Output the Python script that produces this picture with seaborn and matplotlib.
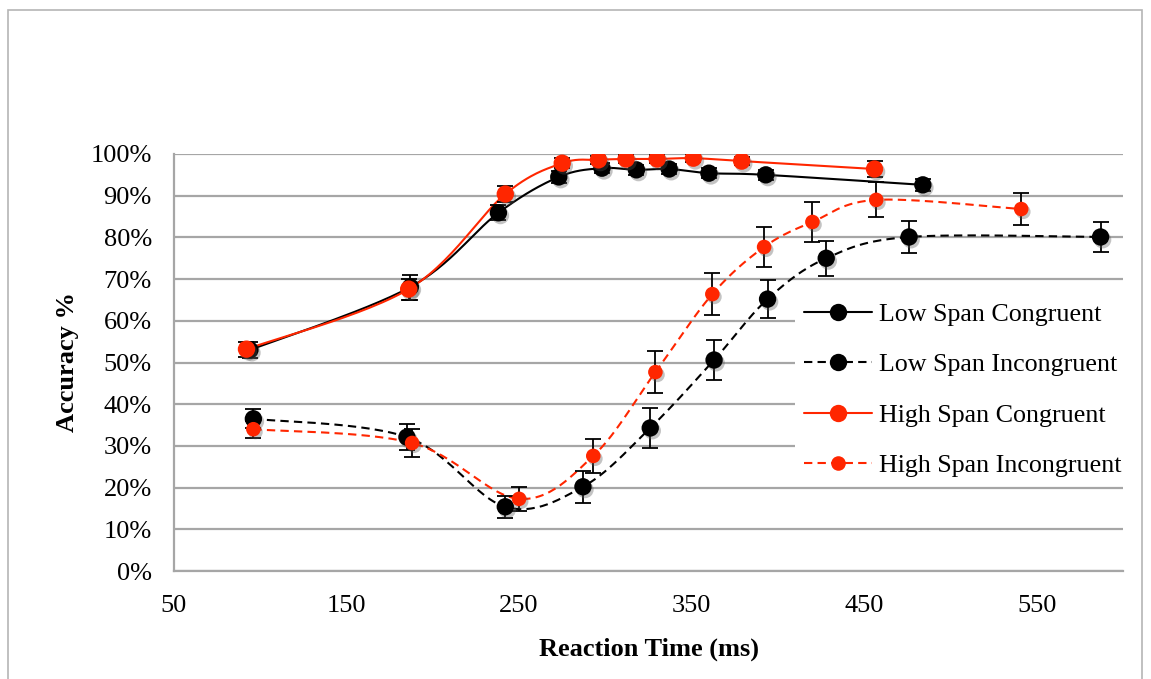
import numpy as np
import pandas as pd
import matplotlib
matplotlib.use("Agg")
import matplotlib.pyplot as plt
import matplotlib.patheffects as pe
import seaborn as sns
from matplotlib.lines import Line2D
from matplotlib.patches import Rectangle
from matplotlib.ticker import FuncFormatter

# --- data: reaction time (ms), accuracy (%), error (+/- %) ---
low_cong_rt = [94, 187, 238, 273, 298, 318, 337, 360, 393, 484]
low_cong_acc = [53.0, 68.1, 85.9, 94.5, 96.6, 96.2, 96.4, 95.4, 95.0, 92.6]
low_cong_err = [2.0, 3.0, 1.8, 1.5, 1.2, 1.2, 1.2, 1.2, 1.2, 1.5]

low_incong_rt = [96, 185, 242, 287, 326, 363, 394, 428, 476, 587]
low_incong_acc = [36.5, 32.1, 15.4, 20.2, 34.3, 50.6, 65.2, 75.0, 80.1, 80.1]
low_incong_err = [2.3, 3.1, 2.6, 3.8, 4.8, 4.7, 4.6, 4.2, 3.8, 3.7]

high_cong_rt = [92, 186, 242, 275, 296, 312, 330, 351, 379, 456]
high_cong_acc = [53.2, 67.6, 90.4, 97.8, 98.6, 98.8, 98.8, 99.0, 98.3, 96.4]
high_cong_err = [1.8, 2.5, 2.0, 1.2, 1.0, 1.0, 1.0, 1.0, 1.0, 2.0]

high_incong_rt = [96, 188, 250, 293, 329, 362, 392, 420, 457, 541]
high_incong_acc = [34.0, 30.7, 17.3, 27.6, 47.7, 66.4, 77.7, 83.7, 89.0, 86.8]
high_incong_err = [2.0, 3.4, 2.9, 4.1, 5.0, 5.0, 4.9, 4.7, 4.2, 3.9]

labels = ['Low Span Congruent', 'Low Span Incongruent',
          'High Span Congruent', 'High Span Incongruent']
x_ticks = [50, 150, 250, 350, 450, 550]
y_ticks = [0, 10, 20, 30, 40, 50, 60, 70, 80, 90, 100]

RED = '#ff2600'
FS = 19


def smooth(x, y, n=30):
    # Excel-like smoothed line (bezier through the points, Catmull-Rom handles)
    p = np.column_stack([x, y]).astype(float)
    out = [p[0]]
    for i in range(len(p) - 1):
        p0 = p[i - 1] if i > 0 else p[i]
        p3 = p[i + 2] if i + 2 < len(p) else p[i + 1]
        c1 = p[i] + (p[i + 1] - p0) / 6
        c2 = p[i + 1] - (p3 - p[i]) / 6
        t = np.linspace(0, 1, n)[1:, None]
        seg = ((1 - t) ** 3 * p[i] + 3 * (1 - t) ** 2 * t * c1
               + 3 * (1 - t) * t ** 2 * c2 + t ** 3 * p[i + 1])
        out.extend(seg)
    out = np.array(out)
    return out[:, 0], out[:, 1]


sns.set_style('white')
plt.rcParams['font.family'] = ['Liberation Serif', 'DejaVu Serif']
plt.rcParams['text.color'] = 'black'
plt.rcParams['axes.labelcolor'] = 'black'
plt.rcParams['xtick.color'] = 'black'
plt.rcParams['ytick.color'] = 'black'

fig = plt.figure(figsize=(11.51, 6.79), dpi=100)
ax = fig.add_axes([174 / 1151, 1 - 571 / 679, (1123 - 174) / 1151, (571 - 154) / 679])

series = [
    (low_cong_rt, low_cong_acc, low_cong_err, 'black', '-', 12.5),
    (low_incong_rt, low_incong_acc, low_incong_err, 'black', (0, (4, 2.5)), 12.5),
    (high_cong_rt, high_cong_acc, high_cong_err, RED, '-', 12.5),
    (high_incong_rt, high_incong_acc, high_incong_err, RED, (0, (4, 2.5)), 10.5),
]

for rt, acc, err, col, ls, ms in series:
    sx, sy = smooth(rt, acc)
    sns.lineplot(x=sx, y=sy, ax=ax, color=col, linestyle=ls, lw=1.5,
                 sort=False, estimator=None, zorder=3)

for rt, acc, err, col, ls, ms in series:
    ax.errorbar(rt, acc, yerr=err, fmt='none', ecolor='black', elinewidth=1.3,
                capsize=6, capthick=1.3, zorder=4)

shadow = [pe.SimplePatchShadow(offset=(1.5, -2), shadow_rgbFace='#555555', alpha=0.35),
          pe.Normal()]
for rt, acc, err, col, ls, ms in series:
    df = pd.DataFrame({'rt': rt, 'acc': acc})
    sns.scatterplot(data=df, x='rt', y='acc', ax=ax, color=col, s=ms ** 2,
                    edgecolor='none', zorder=5)
    ax.collections[-1].set_path_effects(shadow)

ax.set_xlim(50, 600)
ax.set_ylim(0, 100)
ax.set_xticks(x_ticks)
ax.set_yticks(y_ticks)
ax.yaxis.set_major_formatter(FuncFormatter(lambda v, _: f'{v:.0f}%'))
ax.tick_params(axis='both', length=0, labelsize=FS, colors='black')
ax.tick_params(axis='x', pad=17)
ax.tick_params(axis='y', pad=16)

ax.yaxis.grid(True, color='#a6a6a6', lw=1.6, zorder=0)
ax.xaxis.grid(False)
ax.set_axisbelow(True)
for side in ['top', 'right']:
    ax.spines[side].set_visible(False)
for side in ['left', 'bottom']:
    ax.spines[side].set_color('#a6a6a6')
    ax.spines[side].set_linewidth(1.6)

ax.set_xlabel('Reaction Time (ms)', fontsize=FS, fontweight='bold')
ax.set_ylabel('Accuracy %', fontsize=FS, fontweight='bold')
ax.xaxis.set_label_coords((649 - 174) / 949, -(638 - 571) / 417)
ax.yaxis.set_label_coords(-(174 - 79) / 949, 0.5)

handles = []
for rt, acc, err, col, ls, ms in series:
    handles.append(Line2D([], [], color=col, linestyle=ls, lw=1.5,
                          marker='o', markersize=ms, markeredgecolor='none'))
leg = ax.legend(handles, labels, loc='center left',
                bbox_to_anchor=((795 - 174) / 949, (571 - 390) / 417),
                fontsize=18.7, handlelength=2.6, handletextpad=0.3,
                labelspacing=1.05, borderpad=0.35, borderaxespad=0,
                frameon=True, fancybox=False)
leg.get_frame().set_facecolor('white')
leg.get_frame().set_edgecolor('none')
leg.get_frame().set_alpha(1)

fig.add_artist(Rectangle((8 / 1151, -0.02), (1142 - 8) / 1151, 1.02 - 10 / 679,
                         transform=fig.transFigure, fill=False,
                         edgecolor='#b5b5b5', lw=1.2))

plt.savefig('out.png', dpi=100)
plt.close()
